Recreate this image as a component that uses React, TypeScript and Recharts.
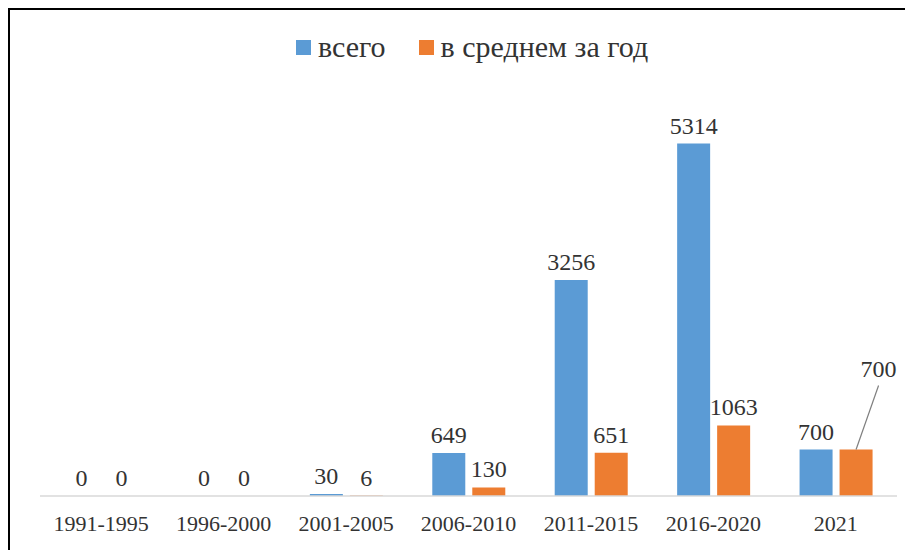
import { BarChart, Bar, XAxis, YAxis, Legend, LabelList } from 'recharts';

const periods = ['1991-1995', '1996-2000', '2001-2005', '2006-2010', '2011-2015', '2016-2020', '2021'];
const totalValues = [0, 0, 30, 649, 3256, 5314, 700];
const perYearValues = [0, 0, 6, 130, 651, 1063, 700];
const seriesOrder = ['total', 'perYear'];
const seriesNames = { total: 'всего', perYear: 'в среднем за год' };

const data = periods.map((period, i) => ({
  period,
  total: totalValues[i],
  perYear: perYearValues[i],
}));

const BLUE = '#5b9bd5';
const ORANGE = '#ed7d31';
const FONT = "Liberation Serif, DejaVu Serif, Times, serif";
const TEXT = '#333333';

function LegendContent({ payload }: any) {
  const items = [...(payload || [])].sort(
    (a: any, b: any) => seriesOrder.indexOf(a.dataKey) - seriesOrder.indexOf(b.dataKey)
  );
  return (
    <div style={{ display: 'flex', alignItems: 'center', fontFamily: FONT, fontSize: 30, lineHeight: '34px', color: TEXT }}>
      {items.map((p: any, i: number) => (
        <div key={p.value} style={{ display: 'flex', alignItems: 'center', marginLeft: i ? 33 : 0 }}>
          <span style={{ width: 15, height: 15, background: p.color, marginRight: 7, display: 'inline-block' }} />
          <span>{p.value}</span>
        </div>
      ))}
    </div>
  );
}

function valueText(x: number, y: number, value: any) {
  return (
    <text x={x} y={y} textAnchor="middle" dominantBaseline="central"
      fontFamily={FONT} fontSize={24} fill={TEXT}>{value}</text>
  );
}

// last orange label sits outside its bar with a leader line
function PerYearLabel(props: any) {
  const { x, y, width, value } = props;
  const idx = props.index ?? periods.indexOf(props.payload?.period);
  const cx = x + width / 2;
  if (idx === periods.length - 1) {
    const lx = x + width + 6;
    return (
      <g>
        <line x1={cx} y1={y} x2={lx} y2={y - 64} stroke="#7f7f7f" strokeWidth={1.2} />
        {valueText(lx, y - 81, value)}
      </g>
    );
  }
  return valueText(cx, y - 18, value);
}

function TotalLabel(props: any) {
  const { x, y, width, value } = props;
  return valueText(x + width / 2, y - 18, value);
}

export default function App() {
  return (
    <div style={{ width: 897, height: 540, borderTop: '2px solid #000', borderLeft: '2px solid #000', background: '#fff' }}>
      <BarChart
        width={895}
        height={538}
        data={data}
        margin={{ top: 20, right: 8, bottom: 12, left: 30 }}
        barSize={33}
        barGap={7}
      >
        <Legend
          verticalAlign="top"
          align="left"
          content={<LegendContent />}
          wrapperStyle={{ top: 20, left: 286, height: 68 }}
        />
        <XAxis
          dataKey="period"
          axisLine={{ stroke: '#d9d9d9', strokeWidth: 1.5 }}
          tickLine={false}
          tickSize={0}
          tickMargin={19}
          height={40}
          interval={0}
          tick={{ fontFamily: FONT, fontSize: 22, fill: TEXT }}
        />
        <YAxis hide domain={[0, 6000]} />
        <Bar dataKey="total" name={seriesNames.total} fill={BLUE} minPointSize={0.01} isAnimationActive={false}>
          <LabelList dataKey="total" content={<TotalLabel />} />
        </Bar>
        <Bar dataKey="perYear" name={seriesNames.perYear} fill={ORANGE} minPointSize={0.01} isAnimationActive={false}>
          <LabelList dataKey="perYear" content={<PerYearLabel />} />
        </Bar>
      </BarChart>
    </div>
  );
}
